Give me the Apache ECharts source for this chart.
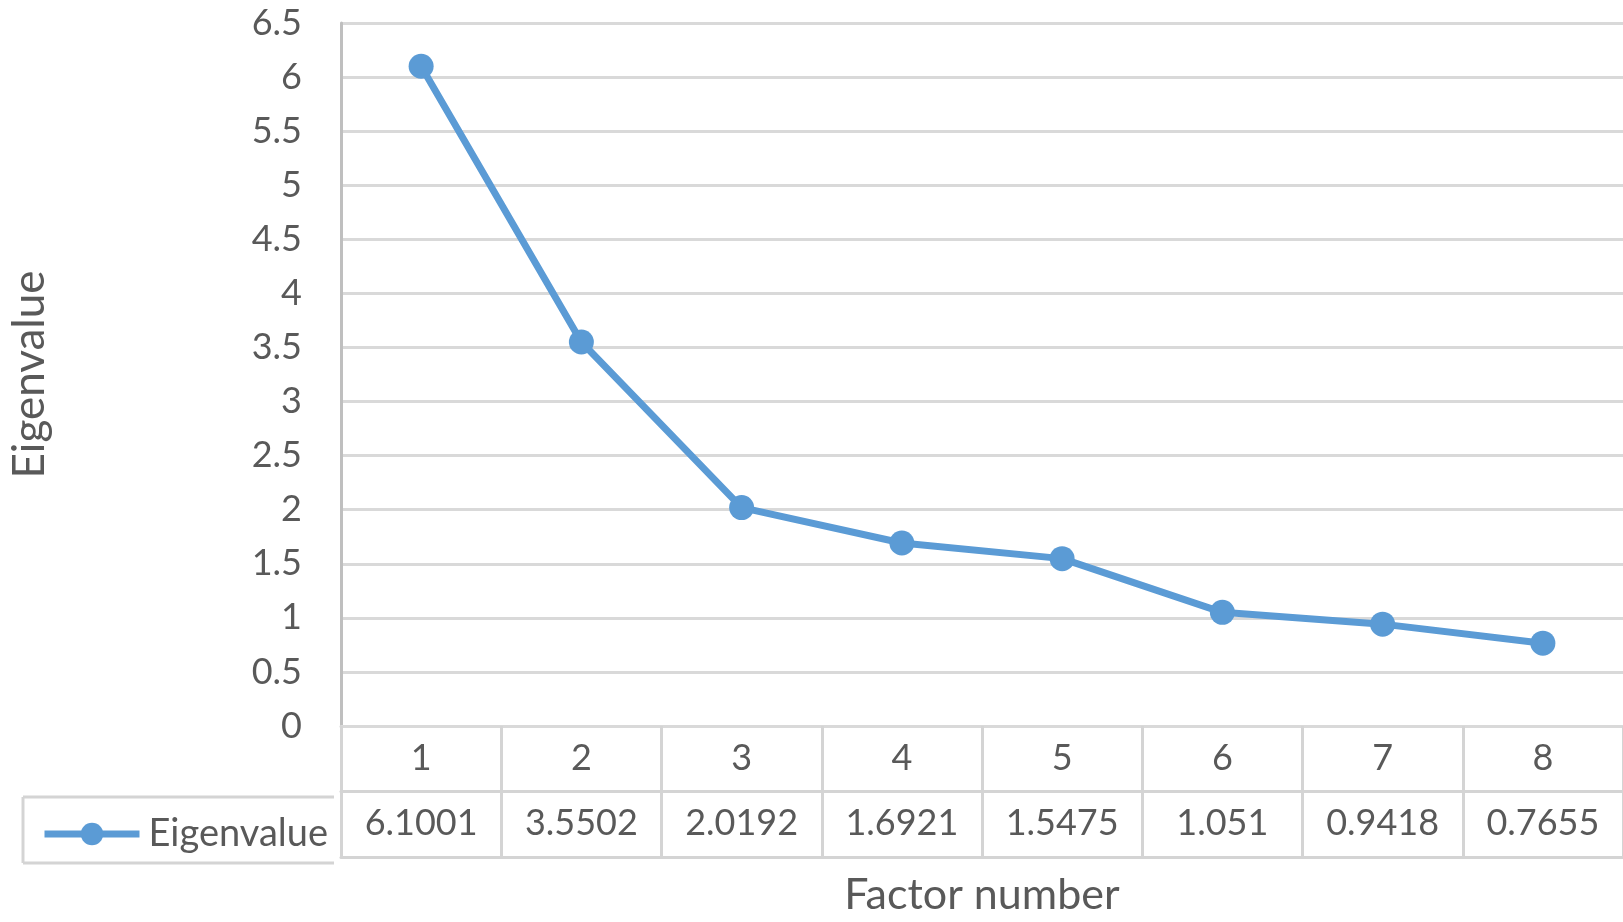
<!DOCTYPE html>
<html>
<head>
<meta charset="utf-8">
<script src="https://cdn.jsdelivr.net/npm/echarts@6/dist/echarts.min.js"></script>
<style>html,body{margin:0;padding:0;background:#fff;}#c{width:1623px;height:922px;}</style>
</head>
<body>
<div id="c"></div>
<script>
const categories = ['1', '2', '3', '4', '5', '6', '7', '8'];
const eigenvalues = [6.1001, 3.5502, 2.0192, 1.6921, 1.5475, 1.051, 0.9418, 0.7655];
const valueLabels = ['6.1001', '3.5502', '2.0192', '1.6921', '1.5475', '1.051', '0.9418', '0.7655'];
const seriesName = 'Eigenvalue';

const FONT = 'Lato';
const TXT = '#595959';
const GRIDC = '#d9d9d9';
const TABLEC = '#d4d4d4';
const BLUE = '#5B9BD5';

const G = { left: 334, top: 23, width: 1298, height: 709 };
const rowH = 65;
const tableBottom = 131;
const axisY = G.top + G.height;

const chart = echarts.init(document.getElementById('c'));
chart.setOption({
  animation: false,
  backgroundColor: '#fff',
  grid: { left: G.left, top: G.top, width: G.width, height: G.height, containLabel: false },
  legend: {
    data: [seriesName],
    left: 36, top: axisY + rowH + 13,
    itemWidth: 95, itemHeight: 28, itemGap: 0,
    lineStyle: { width: 7, color: BLUE },
    itemStyle: { color: BLUE },
    textStyle: { fontFamily: FONT, fontSize: 38, color: TXT, padding: [0, 0, 0, 4] }
  },
  xAxis: [
    {
      type: 'category', data: categories, position: 'bottom', boundaryGap: true,
      axisLine: { show: true, lineStyle: { color: GRIDC, width: 3 } },
      axisTick: { show: true, interval: 0, alignWithLabel: false, length: tableBottom, lineStyle: { color: TABLEC, width: 3 } },
      axisLabel: { fontFamily: FONT, fontSize: 36, color: TXT, margin: 14, lineHeight: 36 },
      splitLine: { show: false }
    },
    {
      type: 'category', data: categories, position: 'bottom', offset: rowH, boundaryGap: true,
      axisLine: { show: true, lineStyle: { color: TABLEC, width: 3 } },
      axisTick: { show: false },
      axisLabel: { fontFamily: FONT, fontSize: 36, color: TXT, margin: 14, lineHeight: 36,
        formatter: (v, i) => valueLabels[i] },
      splitLine: { show: false }
    },
    {
      type: 'category', data: categories, position: 'bottom', offset: tableBottom, boundaryGap: true,
      axisLine: { show: true, lineStyle: { color: TABLEC, width: 3 } },
      axisTick: { show: false },
      axisLabel: { show: false },
      name: 'Factor number', nameLocation: 'middle', nameGap: 17,
      nameTextStyle: { fontFamily: FONT, fontSize: 43, color: TXT }
    }
  ],
  yAxis: {
    type: 'value', min: 0, max: 6.5, interval: 0.5,
    axisLine: { show: true, lineStyle: { color: '#bfbfbf', width: 3 } },
    axisTick: { show: false },
    axisLabel: { fontFamily: FONT, fontSize: 36, color: TXT, margin: 39 },
    splitLine: { show: true, lineStyle: { color: GRIDC, width: 3 } },
    name: 'Eigenvalue', nameLocation: 'middle', nameGap: 289, nameRotate: 90,
    nameTextStyle: { fontFamily: FONT, fontSize: 44, color: TXT }
  },
  graphic: [
    { type: 'line', shape: { x1: 23, y1: axisY + rowH, x2: G.left, y2: axisY + rowH }, style: { stroke: TABLEC, lineWidth: 3 } },
    { type: 'line', shape: { x1: 23, y1: axisY + tableBottom, x2: G.left, y2: axisY + tableBottom }, style: { stroke: TABLEC, lineWidth: 3 } },
    { type: 'line', shape: { x1: 23, y1: axisY + rowH, x2: 23, y2: axisY + tableBottom }, style: { stroke: TABLEC, lineWidth: 3 } }
  ],
  series: [{
    name: seriesName, type: 'line', data: eigenvalues,
    symbol: 'circle', symbolSize: 25,
    lineStyle: { color: BLUE, width: 7 },
    itemStyle: { color: BLUE },
    label: { show: false }
  }]
});
</script>
</body>
</html>
